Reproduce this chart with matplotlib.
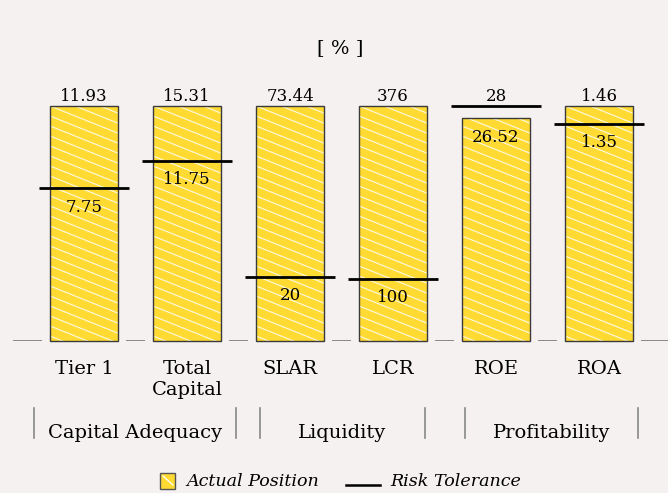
import numpy as np
import matplotlib.pyplot as plt
import matplotlib.patches as mpatches
from matplotlib.collections import LineCollection
from matplotlib.lines import Line2D

plt.rcParams['font.family'] = 'DejaVu Serif'

# risk appetite metrics [%]
metrics = ["Tier 1", "Total\nCapital", "SLAR", "LCR", "ROE", "ROA"]
actual = [11.93, 15.31, 73.44, 376, 26.52, 1.46]
tolerance = [7.75, 11.75, 20, 100, 28, 1.35]
groups = ["Capital Adequacy", "Liquidity", "Profitability"]
group_span = [(-0.49, 1.48), (1.71, 3.31), (3.70, 5.38)]

bg = '#f4f1f0'
yellow = '#ffda33'

# each metric is drawn relative to the larger of its two values
scale = np.maximum(actual, tolerance)
h_act = np.array(actual) / scale
h_tol = np.array(tolerance) / scale
x = np.arange(len(metrics))
bw = 0.66

fig = plt.figure(figsize=(6.68, 4.93), dpi=100, facecolor=bg)
ax = fig.add_axes([0, 152 / 493, 1, 235 / 493])
ax.set_facecolor(bg)
ax.set_xlim(-0.816, 5.67)
ax.set_ylim(0, 1)
for s in ax.spines.values():
    s.set_visible(False)
ax.set_yticks([])

bars = ax.bar(x, h_act, width=bw, color=yellow, linewidth=0, zorder=2, clip_on=False)

# slanted white hatching, clipped to each bar
px_x = 668 / (5.67 + 0.816)
px_y = 235.0
slope = -0.4 * px_x / px_y
step = 10 / px_y
for xi, hi, b in zip(x, h_act, bars):
    left, right = xi - bw / 2, xi + bw / 2
    segs = []
    for y0 in np.arange(step / 2, hi - slope * bw + step, step):
        segs.append([(left, y0), (right, y0 + slope * bw)])
    lc = LineCollection(segs, colors='white', linewidths=0.8, alpha=0.85, zorder=2.5)
    ax.add_collection(lc)
    lc.set_clip_path(b)

# bar outlines on top of the hatching
ax.bar(x, h_act, width=bw, fill=False, edgecolor='#3a3a3a', linewidth=1, zorder=2.7, clip_on=False)

# risk tolerance markers
ax.hlines(h_tol, x - 0.437, x + 0.437, colors='black', linewidth=2, zorder=3, clip_on=False)

# broken baseline between the bars
gap = 0.075
starts = [-0.69] + list(x + bw / 2 + gap)
ends = list(x - bw / 2 - gap) + [5.7]
ax.hlines(np.zeros(len(starts)), starts, ends, colors='#777777', linewidth=1.2, zorder=1)

# value labels: the higher mark gets its label above, the lower one below
for xi, a, t, ha_, ht_ in zip(x, actual, tolerance, h_act, h_tol):
    if a >= t:
        hi_v, hi_h, lo_v, lo_h = a, ha_, t, ht_
    else:
        hi_v, hi_h, lo_v, lo_h = t, ht_, a, ha_
    ax.annotate(f"{hi_v:g}", (xi, hi_h), xytext=(0, 1), textcoords='offset points',
                ha='center', va='bottom', fontsize=12, zorder=4)
    ax.annotate(f"{lo_v:g}", (xi, lo_h), xytext=(0, -7.5), textcoords='offset points',
                ha='center', va='top', fontsize=12, zorder=4)

ax.set_xticks(x, metrics, fontsize=14)
ax.tick_params(axis='x', length=0, pad=13.5)

# group labels with separators
trans = ax.get_xaxis_transform()
for name, (g0, g1) in zip(groups, group_span):
    ax.annotate(name, ((g0 + g1) / 2, 0), xycoords=trans, xytext=(0, -69.8),
                textcoords='offset points', ha='center', va='baseline', fontsize=14)
    for gx in (g0, g1):
        ax.add_line(Line2D([gx, gx], [-0.285, -0.413], transform=trans, color='#888888',
                           linewidth=1.2, clip_on=False))

fig.text(340 / 668, 1 - 48 / 493, "[ % ]", ha='center', va='center', fontsize=14)

# legend
fig.add_artist(mpatches.Rectangle((160 / 668, 4 / 493), 15 / 668, 16 / 493, transform=fig.transFigure,
                                  facecolor=yellow, edgecolor='#555555', linewidth=1))
fig.add_artist(Line2D([163 / 668, 173 / 668], [17 / 493, 8 / 493], transform=fig.transFigure,
                      color='white', linewidth=0.9))
fig.text(186 / 668, 1 - 481 / 493, "Actual Position", style='italic', fontsize=12.6, va='center')
fig.add_artist(Line2D([346 / 668, 380 / 668], [1 - 485 / 493] * 2, transform=fig.transFigure,
                      color='black', linewidth=1.8))
fig.text(390 / 668, 1 - 481 / 493, "Risk Tolerance", style='italic', fontsize=12.6, va='center')

fig.savefig("out.png", dpi=100, facecolor=bg)
